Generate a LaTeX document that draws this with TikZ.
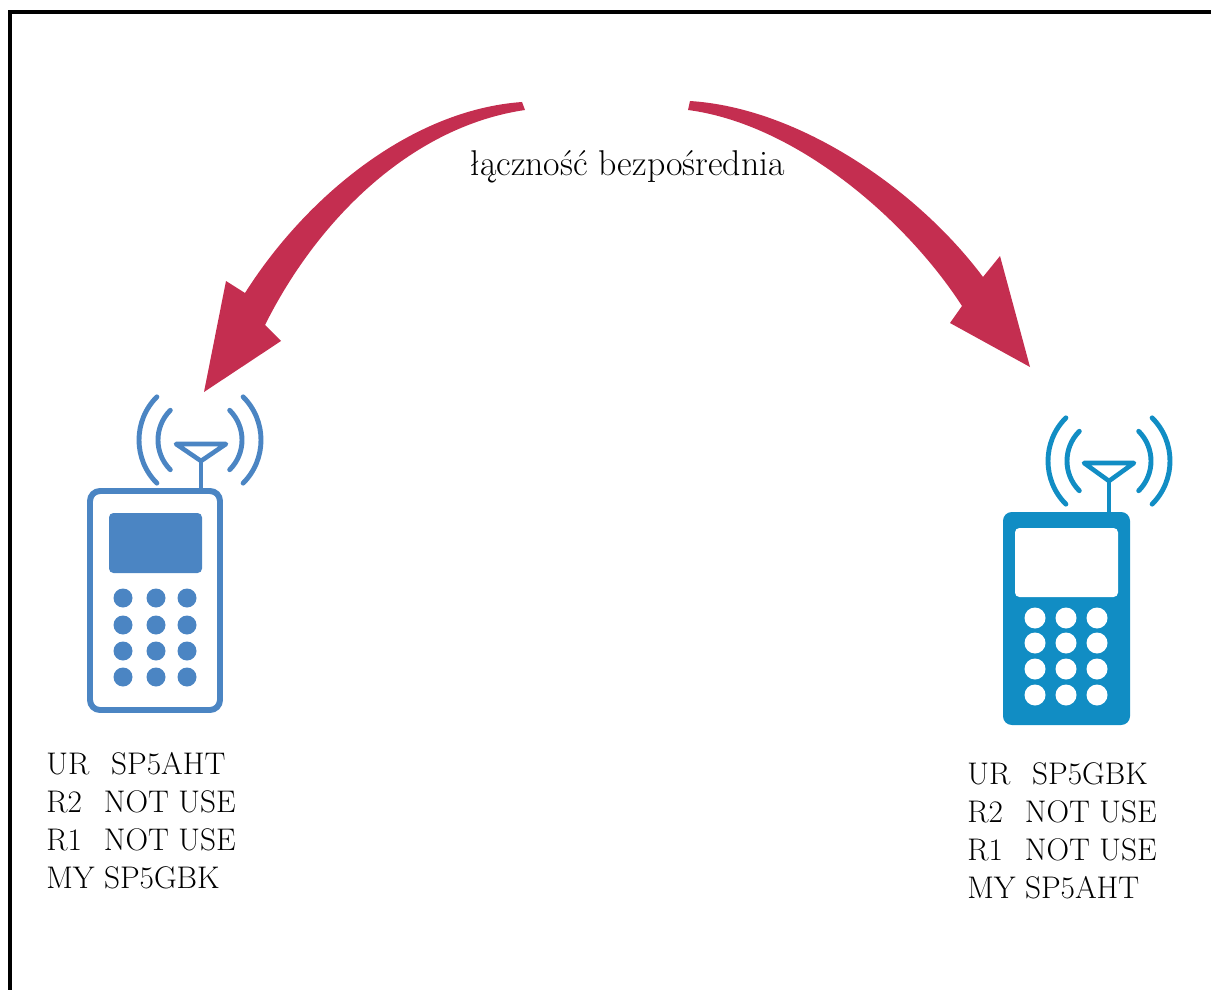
\documentclass[tikz,border=0pt]{standalone}
\definecolor{linkred}{RGB}{196,46,80}
\definecolor{phoneblue}{RGB}{75,133,195}
\definecolor{phonecyan}{RGB}{17,141,196}
\tikzset{
  wave/.style={line width=2.8pt, line cap=round},
  callsigns/.style={anchor=north west, align=left, inner sep=0pt, font=\fontsize{17.8}{21.6}\selectfont}
}
\begin{document}
\begin{tikzpicture}[x=0.02cm, y=-0.02cm]
\useasboundingbox (0,0) rectangle (1211,990);
% Frame
\draw[line width=2.2pt] (10,990) -- (10,12) -- (1211,12);

% Arrows
\fill[linkred] (522,102) .. controls (410,110) and (305,198) .. (245,293) -- (226,281) -- (204,392) -- (281,341) -- (265,325) .. controls (320,215) and (415,126) .. (525,110) -- cycle;
\fill[linkred] (690,101) .. controls (800,108) and (918,190) .. (983,277) -- (1000,256) -- (1030,367) -- (950,323) -- (962,306) .. controls (905,218) and (795,124) .. (688,110) -- cycle;
\node[inner sep=0pt] (link) at (627,167) {\fontsize{20.4}{24}\selectfont łączność bezpośrednia};

% Left phone
\draw[phoneblue, line width=3.4pt, rounded corners=5.7pt] (90,491) rectangle (220,710);
\fill[phoneblue, rounded corners=2.5pt] (109,513) rectangle (202,573);
\foreach \x in {123,156,187}
  \foreach \y in {598,625,651,677}
    \fill[phoneblue] (\x,\y) circle[radius=9.5];
\draw[phoneblue, line width=2.3pt] (201,461) -- (201,491);
\draw[phoneblue, line width=2.6pt, line join=round] (176,444) -- (226,444) -- (201,461) -- cycle;
\foreach \r in {42,61} {
  \draw[phoneblue, wave] (200,440) ++(135:\r) arc[start angle=135, end angle=225, radius=\r];
  \draw[phoneblue, wave] (200,440) ++(-45:\r) arc[start angle=-45, end angle=45, radius=\r];
}

% Right phone
\fill[phonecyan, rounded corners=5pt] (1003,512) rectangle (1130,725);
\fill[white, rounded corners=2.5pt] (1015,528) rectangle (1118,597);
\foreach \x in {1035,1066,1097}
  \foreach \y in {618,643,669,695}
    \fill[white] (\x,\y) circle[radius=10.5];
\draw[phonecyan, line width=2.3pt] (1109,481) -- (1109,512);
\draw[phonecyan, line width=2.6pt, line join=round] (1084,463) -- (1134,463) -- (1109,481) -- cycle;
\foreach \r in {42,61} {
  \draw[phonecyan, wave] (1109,461) ++(135:\r) arc[start angle=135, end angle=225, radius=\r];
  \draw[phonecyan, wave] (1109,461) ++(-45:\r) arc[start angle=-45, end angle=45, radius=\r];
}

% Call signs
\node[callsigns] (setL) at (46,752) {UR\hspace{0.7em}SP5AHT\\R2\hspace{0.7em}NOT USE\\R1\hspace{0.7em}NOT USE\\MY SP5GBK};
\node[callsigns] (setR) at (967,762) {UR\hspace{0.7em}SP5GBK\\R2\hspace{0.7em}NOT USE\\R1\hspace{0.7em}NOT USE\\MY SP5AHT};
\end{tikzpicture}
\end{document}
